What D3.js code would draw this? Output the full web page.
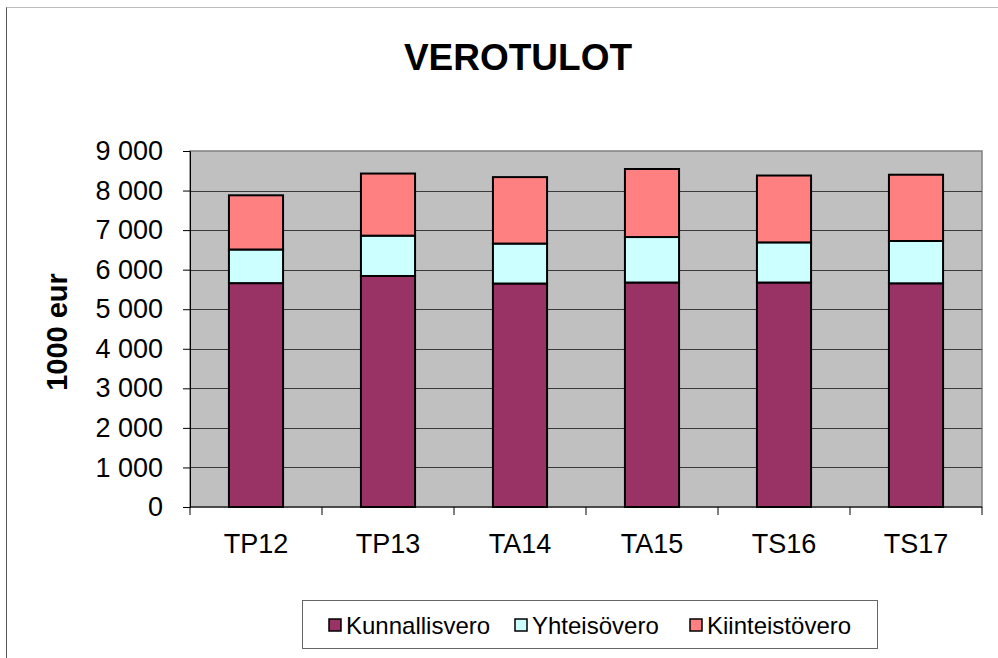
<!DOCTYPE html>
<html>
<head>
<meta charset="utf-8">
<script src="https://cdn.jsdelivr.net/npm/d3@7"></script>
<style>
  body { margin: 0; background: #fff; }
  text { font-family: Arial, "Liberation Sans", sans-serif; }
</style>
</head>
<body>
<div class="chart"></div>
<script>
// data (1000 eur)
var categories = ['TP12', 'TP13', 'TA14', 'TA15', 'TS16', 'TS17'];
var seriesNames = ['Kunnallisvero', 'Yhteisövero', 'Kiinteistövero'];
var kunnallisvero = [5660, 5840, 5650, 5675, 5675, 5655];
var yhteisovero = [850, 1020, 1010, 1150, 1015, 1070];
var kiinteistovero = [1370, 1570, 1680, 1720, 1690, 1675];
var yTicks = [0, 1000, 2000, 3000, 4000, 5000, 6000, 7000, 8000, 9000];
var colors = ['#993366', '#CCFFFF', '#FF8080'];

var width = 998, height = 658;
var plot = {left: 190, right: 982, top: 151, bottom: 507};
var font = 'Arial, "Liberation Sans", sans-serif';

var svg = d3.select('.chart').append('svg').attr('width', width).attr('height', height);

// chart border (only left and top show)
svg.append('line').attr('x1', 6.5).attr('x2', 6.5).attr('y1', 7).attr('y2', height).attr('stroke', '#555');
svg.append('line').attr('x1', 6.5).attr('x2', width).attr('y1', 7.5).attr('y2', 7.5).attr('stroke', '#bbb');

// build rows for the stack
var rows = categories.map(function (c, i) {
  return {cat: c, Kunnallisvero: kunnallisvero[i], 'Yhteisövero': yhteisovero[i], 'Kiinteistövero': kiinteistovero[i]};
});
var stacked = d3.stack().keys(seriesNames)(rows);

var x = d3.scaleBand().domain(categories).range([plot.left, plot.right]).paddingInner(0.59).paddingOuter(0.295);
var xTick = d3.scaleBand().domain(categories).range([plot.left, plot.right]);
var y = d3.scaleLinear().domain([0, 9000]).range([plot.bottom, plot.top]);

// plot area
svg.append('rect').attr('x', plot.left).attr('y', plot.top)
  .attr('width', plot.right - plot.left).attr('height', plot.bottom - plot.top)
  .attr('fill', '#C0C0C0').attr('stroke', '#808080').attr('stroke-width', 1.5);

// gridlines
svg.append('g').selectAll('line').data(yTicks.slice(1, -1)).enter().append('line')
  .attr('x1', plot.left).attr('x2', plot.right)
  .attr('y1', function (d) { return Math.round(y(d)) + 0.5; })
  .attr('y2', function (d) { return Math.round(y(d)) + 0.5; })
  .attr('stroke', '#3a3a3a').attr('stroke-width', 1);

// bars
svg.append('g').selectAll('g').data(stacked).enter().append('g')
  .attr('fill', function (d, i) { return colors[i]; })
  .selectAll('rect').data(function (d) { return d; }).enter().append('rect')
  .attr('x', function (d) { return x(d.data.cat); })
  .attr('y', function (d) { return y(d[1]); })
  .attr('width', x.bandwidth())
  .attr('height', function (d) { return y(d[0]) - y(d[1]); })
  .attr('stroke', '#000').attr('stroke-width', 2);

// y axis
var yAxis = d3.axisLeft(y).tickValues(yTicks).tickSize(7).tickPadding(20)
  .tickFormat(function (d) { return d3.format(',')(d).replace(',', ' '); });
var yG = svg.append('g').attr('transform', 'translate(' + plot.left + ',0)').call(yAxis);
yG.select('.domain').attr('stroke', '#000');
yG.selectAll('line').attr('stroke', '#000');
yG.selectAll('text').attr('font-size', 27).attr('fill', '#000').attr('font-family', font);

// x axis, ticks at category boundaries
var xAxis = d3.axisBottom(x).tickSize(0).tickPadding(27);
var xG = svg.append('g').attr('transform', 'translate(0,' + plot.bottom + ')').call(xAxis);
xG.select('.domain').remove();
xG.selectAll('text').attr('font-size', 27).attr('fill', '#000').attr('font-family', font);
svg.append('line').attr('x1', plot.left).attr('x2', plot.right).attr('y1', plot.bottom).attr('y2', plot.bottom).attr('stroke', '#000');
svg.append('g').selectAll('line').data(categories.concat(['end'])).enter().append('line')
  .attr('x1', function (d, i) { return i < categories.length ? xTick(d) : plot.right; })
  .attr('x2', function (d, i) { return i < categories.length ? xTick(d) : plot.right; })
  .attr('y1', plot.bottom).attr('y2', plot.bottom + 8).attr('stroke', '#000');

// title
svg.append('text').attr('x', 518).attr('y', 70).attr('text-anchor', 'middle')
  .attr('font-size', 37).attr('font-weight', 'bold').text('VEROTULOT');

// y label
svg.append('text').attr('transform', 'translate(67,332) rotate(-90)').attr('text-anchor', 'middle')
  .attr('font-size', 29).attr('font-weight', 'bold').text('1000 eur');

// legend
var leg = svg.append('g');
leg.append('rect').attr('x', 302.5).attr('y', 600.5).attr('width', 575).attr('height', 48)
  .attr('fill', '#fff').attr('stroke', '#666');
var legX = [329, 515, 690];
var items = leg.selectAll('g.item').data(seriesNames).enter().append('g')
  .attr('transform', function (d, i) { return 'translate(' + legX[i] + ',625)'; });
items.append('rect').attr('x', 0).attr('y', -6).attr('width', 12).attr('height', 12)
  .attr('fill', function (d, i) { return colors[i]; }).attr('stroke', '#000').attr('stroke-width', 1.5);
items.append('text').attr('x', 17).attr('y', 9).attr('font-size', 24).text(function (d) { return d; });
</script>
</body>
</html>
